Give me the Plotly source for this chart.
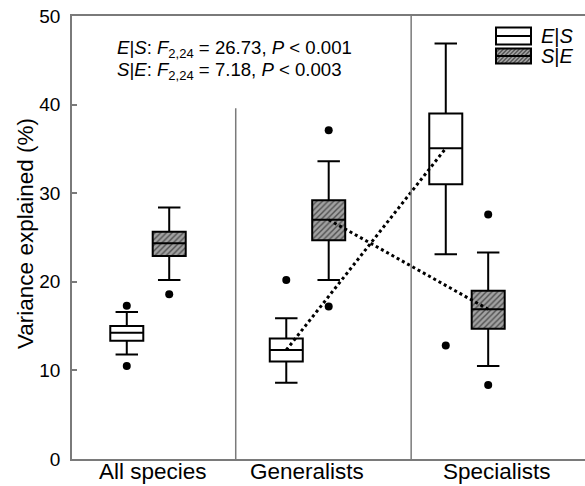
import plotly.graph_objects as go

# ---------------- data ----------------
groups = ["All species", "Generalists", "Specialists"]
group_pos = [1, 2, 3]

# E|S boxes
es_q1 = [13.35, 11.0, 31.0]
es_med = [14.25, 12.3, 35.07]
es_q3 = [15.0, 13.6, 39.0]
es_low = [11.8, 8.6, 23.1]
es_up = [16.6, 15.9, 46.9]
es_out_group = [0, 0, 1, 2]
es_out_val = [17.3, 10.5, 20.2, 12.8]

# S|E boxes
se_q1 = [22.9, 24.7, 14.7]
se_med = [24.35, 27.0, 16.9]
se_q3 = [25.65, 29.2, 19.0]
se_low = [20.2, 20.2, 10.5]
se_up = [28.4, 33.6, 23.3]
se_out_group = [0, 1, 1, 2, 2]
se_out_val = [18.6, 37.1, 17.2, 27.6, 8.35]

y_ticks = [0, 10, 20, 30, 40, 50]
stat_lines = [
    "<i>E</i>|<i>S</i>: <i>F</i><sub>2,24</sub> = 26.73, <i>P</i> &lt; 0.001",
    "<i>S</i>|<i>E</i>: <i>F</i><sub>2,24</sub> = 7.18, <i>P</i> &lt; 0.003",
]
legend_labels = ["<i>E</i>|<i>S</i>", "<i>S</i>|<i>E</i>"]

# ---------------- styling / geometry ----------------
FONT = "Liberation Sans, Arial, sans-serif"
OFF = 0.133
BW = 0.207
GRAY = "#7a7a7a"
W, H = 585, 486
ML, MR, MT, MB = 72, 0, 16, 27
PW, PH = W - ML - MR, H - MT - MB

es_x = [p - OFF for p in group_pos]
se_x = [p + OFF for p in group_pos]

fig = go.Figure()

# hatched fill for S|E boxes
fig.add_trace(go.Bar(
    x=se_x, y=[b - a for a, b in zip(se_q1, se_q3)], base=se_q1, width=BW,
    marker=dict(color="#a0a0a0", line=dict(width=0),
                pattern=dict(shape="/", fgcolor="#505050", bgcolor="#a2a2a2",
                             size=4, solidity=0.35, fillmode="replace")),
    showlegend=False, hoverinfo="skip"))

fig.add_trace(go.Box(
    x=es_x, q1=es_q1, median=es_med, q3=es_q3, lowerfence=es_low, upperfence=es_up,
    width=BW, whiskerwidth=0.68, fillcolor="white", boxpoints=False,
    line=dict(color="black", width=2), showlegend=False))
fig.add_trace(go.Box(
    x=se_x, q1=se_q1, median=se_med, q3=se_q3, lowerfence=se_low, upperfence=se_up,
    width=BW, whiskerwidth=0.68, fillcolor="rgba(0,0,0,0)", boxpoints=False,
    line=dict(color="black", width=2), showlegend=False))

# dotted median connectors (generalists -> specialists)
fig.add_trace(go.Scatter(x=es_x[1:], y=es_med[1:], mode="lines",
                         line=dict(color="black", width=3, dash="dot"), showlegend=False))
fig.add_trace(go.Scatter(x=se_x[1:], y=se_med[1:], mode="lines",
                         line=dict(color="black", width=3, dash="dot"), showlegend=False))

# outliers
fig.add_trace(go.Scatter(x=[es_x[g] for g in es_out_group], y=es_out_val, mode="markers",
                         marker=dict(color="black", size=8), showlegend=False))
fig.add_trace(go.Scatter(x=[se_x[g] for g in se_out_group], y=se_out_val, mode="markers",
                         marker=dict(color="black", size=8), showlegend=False))


def px2paper(x, y):
    """screen pixel -> paper coords"""
    return (x - ML) / PW, (H - MB - y) / PH


shapes = [
    dict(type="line", xref="x", yref="y", x0=1.55, x1=1.55, y0=0, y1=39.6,
         line=dict(color=GRAY, width=1.5)),
    dict(type="line", xref="x", yref="y", x0=2.65, x1=2.65, y0=0, y1=50,
         line=dict(color=GRAY, width=1.5)),
]

# legend glyphs
lx0, lx1 = 496, 531
for i, (ya, yb) in enumerate([(27.5, 44.5), (48.5, 63.5)]):
    x0, y0 = px2paper(lx0, yb)
    x1, y1 = px2paper(lx1, ya)
    if i == 1:
        shapes.append(dict(type="rect", xref="paper", yref="paper", x0=x0, x1=x1, y0=y0, y1=y1,
                           fillcolor="#a2a2a2", line=dict(width=0)))
        segs = []
        step = 4
        w, h = lx1 - lx0, yb - ya
        for k in range(-int(h), int(w) + int(h), step):
            t0 = max(0, -k)
            t1 = min(h, w - k)
            if t1 <= t0:
                continue
            pa = px2paper(lx0 + k + t0, yb - t0)
            pb = px2paper(lx0 + k + t1, yb - t1)
            segs.append(f"M{pa[0]:.5f},{pa[1]:.5f}L{pb[0]:.5f},{pb[1]:.5f}")
        shapes.append(dict(type="path", xref="paper", yref="paper", path="".join(segs),
                           line=dict(color="#505050", width=1.2)))
    shapes.append(dict(type="rect", xref="paper", yref="paper", x0=x0, x1=x1, y0=y0, y1=y1,
                       fillcolor="rgba(0,0,0,0)", line=dict(color="black", width=2)))
    mx0, my = px2paper(lx0, (ya + yb) / 2)
    mx1, _ = px2paper(lx1, 0)
    shapes.append(dict(type="line", xref="paper", yref="paper", x0=mx0, x1=mx1, y0=my, y1=my,
                       line=dict(color="black", width=2)))

annotations = []
for i, lab in enumerate(legend_labels):
    xa, ya = px2paper(539, [36, 56][i])
    annotations.append(dict(text=lab, x=xa, y=ya, xref="paper", yref="paper", xanchor="left",
                            yanchor="middle", align="left", showarrow=False,
                            font=dict(family=FONT, size=20, color="black")))

for i, t in enumerate(stat_lines):
    xa, ya = px2paper(115, [49, 71][i])
    annotations.append(dict(text=t, x=xa, y=ya, xref="paper", yref="paper", xanchor="left",
                            yanchor="middle", align="left", showarrow=False,
                            font=dict(family=FONT, size=18.6, color="black")))

for lab, xp in zip(groups, [153, 307, 497]):
    xa, ya = px2paper(xp, 486)
    annotations.append(dict(text=lab, x=xa, y=ya, xref="paper", yref="paper", xanchor="center",
                            yanchor="bottom", showarrow=False,
                            font=dict(family=FONT, size=22.5, color="black")))

xa, ya = px2paper(25, 234)
annotations.append(dict(text="Variance explained (%)", x=xa, y=ya, xref="paper", yref="paper",
                        textangle=-90, xanchor="center", yanchor="middle", showarrow=False,
                        font=dict(family=FONT, size=22.5, color="black")))

fig.update_layout(
    width=W, height=H, margin=dict(l=ML, r=MR, t=MT, b=MB, autoexpand=False),
    paper_bgcolor="white", plot_bgcolor="white",
    barmode="overlay", showlegend=False,
    shapes=shapes, annotations=annotations,
    xaxis=dict(range=[0.5235, 3.74], showline=True, linecolor=GRAY, linewidth=1.5, mirror=True,
               showticklabels=False, ticks="", showgrid=False, zeroline=False),
    yaxis=dict(range=[0, 50], tickvals=y_ticks, ticks="inside", ticklen=5, tickcolor=GRAY,
               tickwidth=1.5, showline=True, linecolor=GRAY, linewidth=1.5, showgrid=False,
               zeroline=False, ticklabelstandoff=6, ticklabeloverflow="allow",
               tickfont=dict(family=FONT, size=19, color="black")),
)

# remove the default page margin so the figure sits at the window's top-left corner
fig.write_html("out.html", config={"displayModeBar": False},
               post_script="document.body.style.margin='0';")
